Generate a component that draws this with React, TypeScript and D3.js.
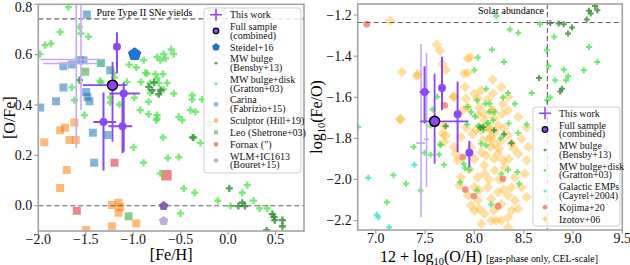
import * as d3 from "d3";

// ---- left panel: [O/Fe] vs [Fe/H] ----
const grattonL: [number, number][] = [
  [-1.683, 0.789], [-1.101, 0.781], [-1.77, 0.69], [-1.567, 0.71], [-1.552, 0.684], [-1.93, 0.638],
  [-1.866, 0.644], [-1.982, 0.602], [-1.471, 0.671], [-1.348, 0.567], [-0.89, 0.578], [-0.748, 0.591],
  [-0.854, 0.525], [-0.748, 0.506], [-1.348, 0.496], [-1.647, 0.47], [-1.066, 0.492], [-0.837, 0.413],
  [-0.748, 0.36], [-0.6, 0.621], [-0.679, 0.602], [-0.573, 0.602], [-0.714, 0.578], [-0.66, 0.585],
  [-0.766, 0.523], [-0.685, 0.523], [-0.73, 0.488], [-0.643, 0.488], [-0.679, 0.462], [-0.573, 0.446],
  [-0.378, 0.439], [-0.378, 0.422], [-0.273, 0.422], [-0.397, 0.38], [-0.344, 0.373], [-0.185, 0.333],
  [-0.203, 0.32], [-0.52, 0.353], [-0.484, 0.34], [-0.748, 0.347], [-0.685, 0.271], [-0.361, 0.271],
  [-0.29, 0.25], [-0.52, 0.194], [-0.636, 0.19], [-0.89, 0.171], [-0.714, 0.129], [-0.467, 0.069],
  [-0.351, 0.052], [-0.108, 0.02], [0.026, -0.001], [0.15, 0.052], [0.203, 0.082], [0.266, 0.02],
  [0.333, -0.01], [0.414, -0.01], [-0.502, -0.03], [-0.996, 0.232], [-1.62, 0.419], [-1.514, 0.36],
  [-1.242, 0.43], [-1.242, 0.41], [-1.144, 0.402], [-0.988, 0.429], [-0.925, 0.38], [-0.837, 0.364],
  [-0.756, 0.34], [-1.044, 0.56], [-0.967, 0.549], [-0.872, 0.528], [-1.34, 0.488], [-1.207, 0.528],
  [-1.197, 0.51], [-0.82, 0.448], [-0.918, 0.492], [-0.82, 0.488],
];
const bensbyL: [number, number][] = [
  [-1.567, 0.499], [-0.8, 0.459], [-0.837, 0.472], [-0.731, 0.443], [-0.372, 0.271], [0.013, 0.069],
  [0.108, -0.001], [0.15, 0.012], [0.178, -0.001], [0.484, -0.044], [0.492, -0.057], [0.573, -0.057],
  [0.573, -0.081], [0.407, -0.097], [0.467, -0.033], [-0.78, 0.49], [-0.71, 0.46],
];
const carina: [number, number][] = [
  [-1.488, 0.76], [-1.736, 0.554], [-1.647, 0.561], [-1.567, 0.578], [-1.524, 0.578], [-1.34, 0.567],
  [-1.242, 0.538], [-1.736, 0.47], [-1.813, 0.415], [-1.496, 0.452], [-1.482, 0.432], [-1.46, 0.415],
  [-1.98, 0.39], [-1.425, 0.29], [-1.27, 0.281], [-1.411, 0.171],
];
const sculptor: [number, number][] = [
  [-1.62, 0.331], [-1.718, 0.31], [-1.77, 0.3], [-1.672, 0.261], [-1.605, 0.261], [-1.937, 0.252],
  [-1.7, 0.142], [-1.77, 0.071], [-1.224, 0.003], [-1.154, 0.012], [-1.136, -0.006], [-1.154, -0.028],
  [-1.224, -0.081], [-0.967, -0.07], [-1.496, -0.096],
];
const fornax: [number, number][] = [[-1.197, 0.171], [-1.594, -0.02], [-0.65, 0.121]];
const leo: [number, number][] = [[-1.049, -0.041], [-1.506, 0.532]];
const wlm: [number, number][] = [[-0.679, -0.001]];
const ic1613: [number, number][] = [[-0.679, -0.06]];
const steidel: [number, number][] = [[-0.985, 0.602]];
// [x, xlow, xhigh, y, ylow, yhigh]
const thisWorkL: number[][] = [
  [-1.171, -1.19, -1.15, 0.631, 0.527, 0.689],
  [-1.10, -1.25, -0.93, 0.446, 0.216, 0.49],
  [-1.313, -1.42, -1.18, 0.333, 0.14, 0.45],
  [-1.112, -1.26, -1.01, 0.316, 0.21, 0.45],
];
const thisWorkLimL: number[][] = [
  [-1.6, -1.98, -1.32, 0.581, 0.23, 0.8],
  [-1.55, -1.95, -1.37, 0.565, 0.38, 0.8],
];
const fullL: number[][] = [[-1.218, -1.53, -1.07, 0.479, 0.254, 0.571]];
const typeIIyield = 0.742;

// ---- right panel: log(Fe/O) vs 12+log(O/H) ----
const izotov: [number, number][] = [
  [7.146, -1.228], [7.618, -1.343], [7.652, -1.374], [7.676, -1.439], [7.266, -1.477], [7.426, -1.488],
  [7.71, -1.468], [7.795, -1.598], [7.905, -1.55], [7.932, -1.481], [7.932, -1.411], [7.249, -1.704],
  [7.915, -1.606], [7.881, -1.663], [7.693, -1.737], [7.959, -1.406], [7.898, -1.484], [7.788, -1.598],
  [8.0, -1.582], [8.069, -1.566], [8.035, -1.606], [7.932, -1.647], [8.137, -1.611], [8.188, -1.582],
  [8.188, -1.663], [8.035, -1.688], [8.102, -1.712], [8.017, -1.758], [8.154, -1.753], [8.24, -1.737],
  [7.693, -1.818], [7.864, -1.794], [8.171, -1.794], [8.205, -1.826], [8.086, -1.81], [7.966, -1.842],
  [7.795, -1.842], [7.71, -1.785], [7.676, -1.777], [7.812, -1.875], [7.83, -1.907], [7.864, -1.989],
  [7.846, -2.029], [7.932, -2.078], [8.051, -2.143], [8.102, -2.167], [7.915, -1.747], [8.069, -1.761],
  [8.137, -1.747], [8.205, -1.771], [8.069, -1.867], [8.12, -1.883], [8.164, -1.842], [8.24, -1.875],
  [8.29, -1.907], [8.307, -1.94], [8.205, -1.956], [8.102, -1.972], [8.035, -1.989], [8.137, -2.038],
  [8.24, -2.062], [8.342, -2.078], [8.41, -2.102], [8.445, -2.143], [8.342, -2.184], [8.274, -2.2],
  [8.171, -2.2], [8.069, -2.216], [8.342, -2.233], [8.0, -2.153], [8.41, -1.99], [8.479, -2.038],
  [8.53, -1.907], [8.445, -1.875], [8.376, -1.826], [8.274, -1.81], [8.342, -1.785], [8.479, -1.802],
  [8.513, -1.972], [8.53, -2.086], [8.274, -2.119], [8.171, -2.094], [8.035, -2.102], [7.966, -2.127],
  [8.0, -2.038], [8.546, -1.842], [8.376, -2.038], [8.222, -2.2], [8.188, -1.514], [8.274, -1.55],
  [8.29, -1.632], [8.342, -1.599], [8.171, -1.664], [8.342, -1.664], [8.445, -1.696], [8.53, -1.747],
  [7.249, -1.709], [7.418, -1.496], [8.05, -1.65], [8.1, -1.68], [8.2, -1.7], [8.15, -1.8],
  [8.25, -1.85], [8.3, -1.75], [8.0, -1.9], [8.1, -1.93], [8.2, -1.9], [8.15, -2.0], [8.25, -2.0],
  [8.35, -1.9], [8.4, -1.85], [7.95, -1.95], [8.05, -2.05], [8.3, -2.05], [8.2, -2.15], [8.38, -2.15],
  [7.98, -1.78], [8.28, -1.68],
];
const grattonR: [number, number][] = [
  [7.385, -1.842], [7.495, -1.87], [7.641, -1.878], [7.693, -1.928], [7.18, -1.98], [7.307, -2.021],
  [7.454, -2.054], [7.113, -2.111], [7.556, -1.737], [7.556, -1.88], [7.652, -1.829], [7.857, -2.013],
  [7.891, -1.923], [7.905, -1.945], [7.949, -1.953], [8.028, -2.054], [8.171, -2.122], [8.274, -1.972],
  [8.342, -1.953], [8.437, -1.964], [8.451, -2.021], [8.041, -1.741], [8.13, -1.728], [8.348, -1.728],
  [8.445, -1.774], [8.53, -1.732], [8.069, -1.826], [8.266, -1.8], [7.925, -1.732], [8.035, -1.406],
  [8.0, -1.468], [7.625, -1.598], [7.574, -1.66], [7.932, -1.647], [7.966, -1.672], [8.007, -1.693],
  [8.11, -1.631], [8.154, -1.672], [8.205, -1.672], [8.137, -1.725], [8.092, -1.761], [8.051, -1.737],
  [8.188, -1.712], [8.12, -1.834], [7.659, -1.834], [8.222, -1.205], [8.445, -1.286], [8.359, -1.27],
  [8.178, -1.367], [8.301, -1.428], [8.342, -1.579], [8.581, -1.579], [8.29, -1.601], [8.028, -1.615],
  [8.41, -1.631], [8.154, -1.631], [8.12, -1.558], [8.735, -1.615], [8.77, -1.601], [8.82, -1.517],
  [8.93, -1.517], [8.95, -1.498], [8.906, -1.465], [8.666, -1.244], [8.735, -1.371], [8.81, -1.306],
  [9.162, -1.355], [9.247, -1.428], [9.11, -1.468], [8.752, -1.449],
];
const bensbyR: [number, number][] = [
  [8.06, -1.748], [8.376, -1.823], [7.71, -1.741], [8.09, -1.745], [8.656, -1.506], [8.888, -1.558],
  [8.87, -1.572], [8.77, -1.238], [8.855, -1.241], [8.906, -1.244], [8.95, -1.289], [8.99, -1.26],
  [9.162, -1.179], [9.223, -1.156], [9.18, -1.192], [9.247, -1.176], [9.14, -1.221], [8.2, -1.76],
  [8.3, -1.78],
];
const cayrel: [number, number][] = [
  [6.924, -1.992], [7.01, -2.172], [7.027, -2.184], [7.136, -2.233], [7.392, -1.928], [6.822, -1.745],
];
const kojima: [number, number][] = [
  [6.908, -1.244], [7.7, -1.639], [7.881, -1.891], [7.908, -2.049], [7.994, -2.081], [8.24, -2.13],
  [8.29, -1.997],
];
const thisWorkR: number[][] = [
  [7.495, 7.445, 7.545, -1.574, -1.728, -1.449],
  [7.672, 7.662, 7.682, -1.555, -1.663, -1.403],
  [7.83, 7.81, 7.85, -1.683, -1.867, -1.525],
  [7.949, 7.94, 7.958, -1.87, -1.94, -1.813],
];
const thisWorkLimR: number[][] = [
  [7.459, 7.41, 7.5, -1.823, -2.184, -1.341],
  [7.515, 7.49, 7.54, -1.805, -2.038, -1.385],
];
const fullR: number[][] = [[7.597, 7.45, 7.94, -1.717, -1.923, -1.485]];
const solarFeO = -1.236;
const solarOH = 8.74;

const ticksLX = [-2.0, -1.5, -1.0, -0.5, 0.0, 0.5];
const ticksLY = [0.0, 0.2, 0.4, 0.6, 0.8];
const ticksRX = [7.0, 7.5, 8.0, 8.5, 9.0, 9.5];
const ticksRY = [-2.2, -2.0, -1.8, -1.6, -1.4, -1.2];

const legendL = [
  ["This work"], ["Full sample", "(combined)"], ["Steidel+16"], ["MW bulge", "(Bensby+13)"],
  ["MW bulge+disk", "(Gratton+03)"], ["Carina", "(Fabrizio+15)"], ["Sculptor (Hill+19)"],
  ["Leo (Shetrone+03)"], ['Fornax (")'], ["WLM+IC1613", "(Bouret+15)"],
];
const legendR = [
  ["This work"], ["Full sample", "(combined)"], ["MW bulge", "(Bensby+13)"], ["MW bulge+disk", "(Gratton+03)"],
  ["Galactic EMPs", "(Cayrel+2004)"], ["Kojima+20"], ["Izotov+06"],
];

const FONT = "'Liberation Serif', 'Times New Roman', serif";
const PURPLE = "#8a4af3";
const LIGHTPURPLE = "#c6a9f6";
const LG = "#4ee44e";
const DG = "#2e8b2e";
const fmt = d3.format(".1f");

const L = { x0: 38.3, x1: 304, y0: 4.3, y1: 231 };
const R = { x0: 357.7, x1: 622.3, y0: 4, y1: 230 };
const xL = d3.scaleLinear().domain([-2.0, 0.8]).range([L.x0, L.x1]);
const yL = d3.scaleLinear().domain([-0.1, 0.8]).range([L.y1, L.y0]);
const xR = d3.scaleLinear().domain([6.817, 9.5]).range([R.x0, R.x1]);
const yR = d3.scaleLinear().domain([-2.246, -1.146]).range([R.y1, R.y0]);

const cross = (s: number) => d3.symbol(d3.symbolCross, s)() as string;
const square = (s: number) => d3.symbol(d3.symbolSquare, s)() as string;
function pentagon(r: number) {
  const pts = d3.range(5).map((k) => {
    const a = -Math.PI / 2 + (k * 2 * Math.PI) / 5;
    return [r * Math.cos(a), r * Math.sin(a)];
  });
  return "M" + pts.map((p) => p.join(",")).join("L") + "Z";
}
function diamond(r: number) {
  return `M0,${-r}L${r},0L0,${r}L${-r},0Z`;
}

type Sc = d3.ScaleLinear<number, number>;

function Marks({ data, x, y, d, fill, opacity = 1, stroke = "none", sw = 0 }:
  { data: [number, number][]; x: Sc; y: Sc; d: string; fill: string; opacity?: number; stroke?: string; sw?: number }) {
  return (
    <g>
      {data.map(([a, b], i) => (
        <path key={i} d={d} transform={`translate(${x(a)},${y(b)})`} fill={fill} fillOpacity={opacity}
          stroke={stroke} strokeWidth={sw} />
      ))}
    </g>
  );
}

function ErrBars({ data, x, y, color, w }: { data: number[][]; x: Sc; y: Sc; color: string; w: number }) {
  return (
    <g stroke={color} strokeWidth={w}>
      {data.map((p, i) => (
        <g key={i}>
          <line x1={x(p[1])} x2={x(p[2])} y1={y(p[3])} y2={y(p[3])} />
          <line x1={x(p[0])} x2={x(p[0])} y1={y(p[4])} y2={y(p[5])} />
        </g>
      ))}
    </g>
  );
}

function Frame({ b, xs, ys, tx, ty }: { b: typeof L; xs: Sc; ys: Sc; tx: number[]; ty: number[] }) {
  return (
    <g fontFamily={FONT} fontSize={14} fill="#111">
      <rect x={b.x0} y={b.y0} width={b.x1 - b.x0} height={b.y1 - b.y0} fill="none" stroke="#a3a3a3" strokeWidth={1.6} />
      {tx.map((t) => (
        <g key={t}>
          <line x1={xs(t)} x2={xs(t)} y1={b.y1} y2={b.y1 + 4} stroke="#a3a3a3" strokeWidth={1.2} />
          <text x={xs(t)} y={b.y1 + 13} textAnchor="middle">{fmt(t)}</text>
        </g>
      ))}
      {ty.map((t) => (
        <g key={t}>
          <line x1={b.x0 - 4} x2={b.x0} y1={ys(t)} y2={ys(t)} stroke="#a3a3a3" strokeWidth={1.2} />
          <text x={b.x0 - 6} y={Math.max(ys(t) + 4.5, 12)} textAnchor="end">{fmt(t)}</text>
        </g>
      ))}
    </g>
  );
}

function LegendMarker({ kind, x, y }: { kind: string; x: number; y: number }) {
  const t = `translate(${x},${y})`;
  switch (kind) {
    case "This work":
      return (
        <g stroke={PURPLE} strokeWidth={1.6}>
          <line x1={x - 6} x2={x + 6} y1={y} y2={y} />
          <line x1={x} x2={x} y1={y - 6} y2={y + 6} />
        </g>
      );
    case "Full sample":
      return <circle cx={x} cy={y} r={2.8} fill={PURPLE} stroke="#000" strokeWidth={1.2} />;
    case "Steidel+16":
      return <path d={pentagon(3.6)} transform={t} fill="#1a78d8" stroke="#0b3d6e" strokeWidth={0.6} />;
    case "MW bulge":
      return <path d={cross(5)} transform={t} fill={DG} />;
    case "MW bulge+disk":
      return <path d={cross(5)} transform={t} fill={LG} />;
    case "Carina":
      return <path d={square(16)} transform={t} fill="#1f77b4" fillOpacity={0.55} />;
    case "Sculptor (Hill+19)":
      return <path d={square(16)} transform={t} fill="#ff7f0e" fillOpacity={0.55} />;
    case "Leo (Shetrone+03)":
      return <path d={square(16)} transform={t} fill="#2ca02c" fillOpacity={0.55} />;
    case 'Fornax (")':
      return <path d={square(16)} transform={t} fill="#d62728" fillOpacity={0.55} />;
    case "WLM+IC1613":
      return <path d={pentagon(2.5)} transform={t} fill="#9467bd" fillOpacity={0.55} />;
    case "Galactic EMPs":
      return <path d={cross(5)} transform={t} fill="#40e0d0" />;
    case "Kojima+20":
      return <circle cx={x} cy={y} r={2.3} fill="#f0684f" fillOpacity={0.75} />;
    case "Izotov+06":
      return <path d={diamond(3)} transform={t} fill="#ffa500" fillOpacity={0.45} />;
    default:
      return null;
  }
}

const LH = 8.6;
const GAP = 3.3;

function Legend({ items, x, y, w, h, startY }: { items: string[][]; x: number; y: number; w: number; h: number; startY: number }) {
  let cy = startY;
  const rows: JSX.Element[] = [];
  items.forEach((lines, i) => {
    const mid = cy + ((lines.length - 1) * LH) / 2;
    rows.push(<LegendMarker key={"m" + i} kind={lines[0]} x={x + 12} y={mid} />);
    lines.forEach((s, j) => {
      rows.push(
        <text key={`t${i}-${j}`} x={x + 26} y={cy + j * LH + 3.4} fontSize={10}>{s}</text>
      );
    });
    cy += lines.length * LH + GAP;
  });
  return (
    <g fontFamily={FONT} fill="#111">
      <rect x={x} y={y} width={w} height={h} rx={3} fill="#fff" fillOpacity={0.82} stroke="#cfcfcf" strokeWidth={1} />
      {rows}
    </g>
  );
}

export default function App() {
  return (
    <svg width={630} height={265} style={{ position: "absolute", left: 0, top: 0, background: "#fff" }}>
      <defs>
        <clipPath id="clipL"><rect x={L.x0} y={L.y0} width={L.x1 - L.x0} height={L.y1 - L.y0} /></clipPath>
        <clipPath id="clipR"><rect x={R.x0} y={R.y0} width={R.x1 - R.x0} height={R.y1 - R.y0} /></clipPath>
      </defs>

      {/* left panel */}
      <g clipPath="url(#clipL)">
        <Marks data={carina} x={xL} y={yL} d={square(64)} fill="#1f77b4" opacity={0.55} />
        <Marks data={sculptor} x={xL} y={yL} d={square(64)} fill="#ff7f0e" opacity={0.55} />
        <Marks data={leo} x={xL} y={yL} d={square(64)} fill="#2ca02c" opacity={0.55} />
        <Marks data={fornax.slice(0, 2)} x={xL} y={yL} d={square(64)} fill="#d62728" opacity={0.55} />
        <Marks data={fornax.slice(2)} x={xL} y={yL} d={square(110)} fill="#d62728" opacity={0.55} />
        <Marks data={grattonL} x={xL} y={yL} d={cross(28)} fill={LG} opacity={0.75} />
        <Marks data={bensbyL} x={xL} y={yL} d={cross(28)} fill={DG} opacity={0.8} />
        <line x1={L.x0} x2={L.x1} y1={yL(typeIIyield)} y2={yL(typeIIyield)} stroke="#666" strokeWidth={1.1} strokeDasharray="5,3" />
        <line x1={L.x0} x2={L.x1} y1={yL(0)} y2={yL(0)} stroke="#666" strokeWidth={1.1} strokeDasharray="5,3" />
        <Marks data={wlm} x={xL} y={yL} d={pentagon(5)} fill="#7a52a8" opacity={0.9} />
        <Marks data={ic1613} x={xL} y={yL} d={pentagon(5)} fill="#9467bd" opacity={0.55} />
        <Marks data={steidel} x={xL} y={yL} d={pentagon(6.5)} fill="#1a78d8" stroke="#0b3d6e" sw={0.7} />
        <ErrBars data={thisWorkLimL} x={xL} y={yL} color={LIGHTPURPLE} w={1.6} />
        <ErrBars data={fullL} x={xL} y={yL} color={PURPLE} w={1.8} />
        <ErrBars data={thisWorkL} x={xL} y={yL} color={PURPLE} w={2} />
        {thisWorkL.map((p, i) => <circle key={i} cx={xL(p[0])} cy={yL(p[3])} r={4} fill={PURPLE} />)}
        {fullL.map((p, i) => <circle key={i} cx={xL(p[0])} cy={yL(p[3])} r={5} fill={PURPLE} stroke="#000" strokeWidth={1.5} />)}
      </g>
      <rect x={94} y={6} width={100} height={12} fill="#fff" />
      <text x={96.5} y={16} fontFamily={FONT} fontSize={11} textLength={96} lengthAdjust="spacingAndGlyphs">Pure Type II SNe yields</text>
      <Frame b={L} xs={xL} ys={yL} tx={ticksLX} ty={ticksLY} />
      <Legend items={legendL} x={204} y={8} w={97} h={165} startY={14.7} />
      <text x={(L.x0 + L.x1) / 2} y={260} textAnchor="middle" fontFamily={FONT} fontSize={16}>[Fe/H]</text>
      <text transform={`translate(15,${(L.y0 + L.y1) / 2}) rotate(-90)`} textAnchor="middle" fontFamily={FONT} fontSize={16}>[O/Fe]</text>

      {/* right panel */}
      <g clipPath="url(#clipR)">
        <Marks data={izotov} x={xR} y={yR} d={diamond(5.2)} fill="#ffa500" opacity={0.36} />
        <Marks data={grattonR} x={xR} y={yR} d={cross(20)} fill={LG} opacity={0.8} />
        <Marks data={bensbyR} x={xR} y={yR} d={cross(20)} fill={DG} opacity={0.8} />
        <Marks data={cayrel} x={xR} y={yR} d={cross(20)} fill="#40e0d0" opacity={0.85} />
        <Marks data={kojima} x={xR} y={yR} d={d3.symbol(d3.symbolCircle, 36)() as string} fill="#f0684f" opacity={0.7} />
        <line x1={R.x0} x2={R.x1} y1={yR(solarFeO)} y2={yR(solarFeO)} stroke="#666" strokeWidth={1.1} strokeDasharray="5,3" />
        <line x1={xR(solarOH)} x2={xR(solarOH)} y1={R.y0} y2={R.y1} stroke="#666" strokeWidth={1.1} strokeDasharray="5,3" />
        <ErrBars data={thisWorkLimR} x={xR} y={yR} color={LIGHTPURPLE} w={1.6} />
        <ErrBars data={fullR} x={xR} y={yR} color={PURPLE} w={1.8} />
        <ErrBars data={thisWorkR} x={xR} y={yR} color={PURPLE} w={2} />
        {thisWorkR.map((p, i) => <circle key={i} cx={xR(p[0])} cy={yR(p[3])} r={4} fill={PURPLE} />)}
        {fullR.map((p, i) => <circle key={i} cx={xR(p[0])} cy={yR(p[3])} r={5} fill={PURPLE} stroke="#000" strokeWidth={1.5} />)}
      </g>
      <text x={544} y={14} textAnchor="end" fontFamily={FONT} fontSize={11} textLength={66} lengthAdjust="spacingAndGlyphs">Solar abundance</text>
      <Frame b={R} xs={xR} ys={yR} tx={ticksRX} ty={ticksRY} />
      <Legend items={legendR} x={533} y={107} w={87} h={119} startY={113.3} />
      <text x={380} y={261.5} fontFamily={FONT} fontSize={16}>
        12 + log<tspan fontSize={10.5} dy={3}>10</tspan><tspan dy={-3}>(O/H)</tspan>
      </text>
      <text x={486} y={261.5} fontFamily={FONT} fontSize={10.5} textLength={112} lengthAdjust="spacingAndGlyphs">[gas-phase only, CEL-scale]</text>
      <text transform={`translate(322,${(R.y0 + R.y1) / 2}) rotate(-90)`} textAnchor="middle" fontFamily={FONT} fontSize={16}>
        log<tspan fontSize={10.5} dy={3}>10</tspan><tspan dy={-3}>(Fe/O)</tspan>
      </text>
    </svg>
  );
}
